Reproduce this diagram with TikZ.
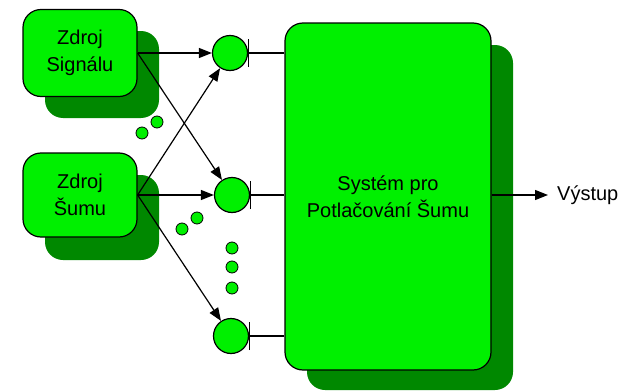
\documentclass[tikz,border=0pt]{standalone}
\usepackage{fontspec}
\setmainfont{Liberation Sans}
\usetikzlibrary{arrows.meta}
\definecolor{lime}{RGB}{0,240,0}
\definecolor{shade}{RGB}{0,136,0}
\tikzset{
  block/.style={draw=black, line width=1.2pt, fill=lime, rounded corners=18pt,
    align=center, font=\fontsize{20}{27}\selectfont, inner sep=0pt},
  shadowbox/.style={fill=shade, rounded corners=18pt},
  junction/.style={circle, draw=black, line width=1.2pt, fill=lime, minimum size=35pt, inner sep=0pt},
  dot/.style={circle, draw=black, line width=0.8pt, fill=lime, minimum size=12pt, inner sep=0pt},
  wire/.style={line width=1.2pt, -{Triangle[length=13pt,width=10pt]}},
  feed/.style={line width=1.2pt, -{Bar[width=28pt,line width=1pt]}},
}
\begin{document}
\begin{tikzpicture}[x=1pt, y=-1pt]
\useasboundingbox (0,0) rectangle (641,391);

% drop shadows behind the blocks
\fill[shadowbox] (45,31) rectangle (159,118);
\fill[shadowbox] (45,175) rectangle (159,260);
\fill[shadowbox] (307,45) rectangle (513,390);

% sources and the processing system
\node[block, minimum width=114pt, minimum height=87pt] (sig) at (80,53) {Zdroj\\Signálu};
\node[block, minimum width=114pt, minimum height=84pt] (noi) at (80,195) {Zdroj\\Šumu};
\node[block, minimum width=206pt, minimum height=347pt] (sys) at (388,196.5) {Systém pro\\Potlačování Šumu};

% sensor junctions
\node[junction] (c1) at (230,53) {};
\node[junction] (c2) at (232,195) {};
\node[junction] (c3) at (231,336) {};

% ellipsis dots
\node[dot] (d1) at (142,133) {};
\node[dot] (d2) at (157,122) {};
\node[dot] (d3) at (182,229) {};
\node[dot] (d4) at (197,218) {};
\node[dot] (d5) at (232,248) {};
\node[dot] (d6) at (232,267) {};
\node[dot] (d7) at (232,288) {};

% propagation paths
\draw[wire] (sig.east) -- (c1);
\draw[wire] (sig.east) -- (c2);
\draw[wire] (noi.east) -- (c1);
\draw[wire] (noi.east) -- (c2);
\draw[wire] (noi.east) -- (c3);

% inputs into the system
\draw[feed] (sys.west |- c1) -- (c1);
\draw[feed] (sys.west |- c2) -- (c2);
\draw[feed] (sys.west |- c3) -- (c3);

% output
\node[font=\fontsize{20}{27}\selectfont, anchor=west, inner sep=0pt, inner xsep=9pt] (out) at (548,195) {Výstup};
\draw[wire] (sys.east |- out) -- (out.west);
\end{tikzpicture}
\end{document}
